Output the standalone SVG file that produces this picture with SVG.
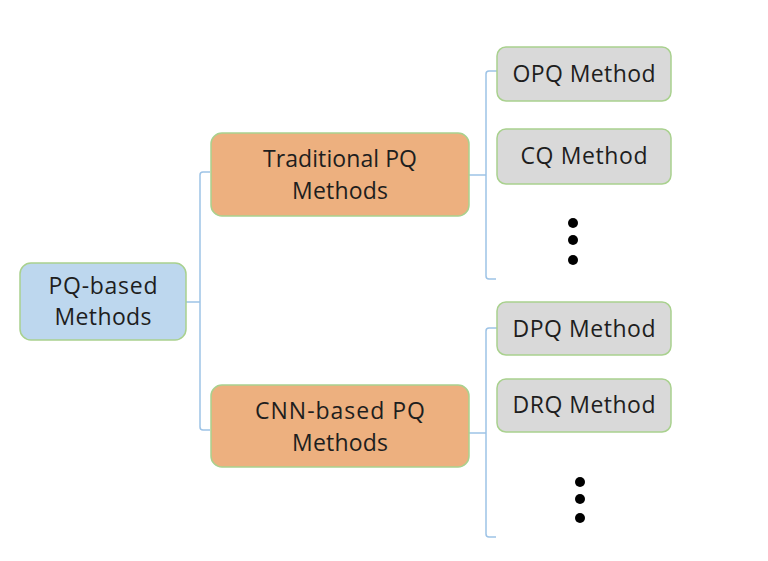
<svg xmlns="http://www.w3.org/2000/svg" width="768" height="561" viewBox="0 0 768 561">
<style>
.node{stroke:#a9d18e;stroke-width:1.5}
.root{fill:#bdd7ee}
.mid{fill:#edb07f}
.leaf{fill:#d9d9d9}
.t{font-family:"Open Sans","Noto Sans",sans-serif;font-size:23px;fill:#1e1e1e;text-anchor:middle}
.c{fill:none;stroke:#9dc3e6;stroke-width:1.5}
.dot{fill:#000}
</style>
<rect width="768" height="561" fill="#ffffff"/>
<g id="connectors">
<path class="c" d="M186,302 H200 M210,172 H203 Q200,172 200,175 V427 Q200,430 203,430 H210"/>
<path class="c" d="M469,175 H486 M497,71 H489 Q486,71 486,74 V276 Q486,279 489,279 H496"/>
<path class="c" d="M469,433 H486 M497,328 H489 Q486,328 486,331 V534 Q486,537 489,537 H496"/>
</g>
<g id="root">
<rect class="node root" x="20" y="263" width="166" height="77" rx="11"/>
<text class="t" x="103" y="294" textLength="109">PQ-based</text>
<text class="t" x="103" y="325" textLength="97">Methods</text>
</g>
<g id="traditional">
<rect class="node mid" x="211" y="133" width="258" height="83" rx="11"/>
<text class="t" x="340" y="167" textLength="154">Traditional PQ</text>
<text class="t" x="340" y="199" textLength="96">Methods</text>
</g>
<g id="cnn">
<rect class="node mid" x="211" y="385" width="258" height="82" rx="11"/>
<text class="t" x="340" y="419" textLength="170">CNN-based PQ</text>
<text class="t" x="340" y="451" textLength="96">Methods</text>
</g>
<g id="opq">
<rect class="node leaf" x="497" y="47" width="174" height="54" rx="9"/>
<text class="t" x="584" y="82" textLength="143">OPQ Method</text>
</g>
<g id="cq">
<rect class="node leaf" x="497" y="129" width="174" height="55" rx="9"/>
<text class="t" x="584" y="164" textLength="127">CQ Method</text>
</g>
<g id="dots1">
<circle class="dot" cx="573" cy="223" r="5"/>
<circle class="dot" cx="573" cy="240" r="5"/>
<circle class="dot" cx="573" cy="260" r="5"/>
</g>
<g id="dpq">
<rect class="node leaf" x="497" y="302" width="174" height="53" rx="9"/>
<text class="t" x="584" y="337" textLength="143">DPQ Method</text>
</g>
<g id="drq">
<rect class="node leaf" x="497" y="379" width="174" height="53" rx="9"/>
<text class="t" x="584" y="413" textLength="143">DRQ Method</text>
</g>
<g id="dots2">
<circle class="dot" cx="580" cy="482" r="5"/>
<circle class="dot" cx="580" cy="499" r="5"/>
<circle class="dot" cx="580" cy="518" r="5"/>
</g>
</svg>
